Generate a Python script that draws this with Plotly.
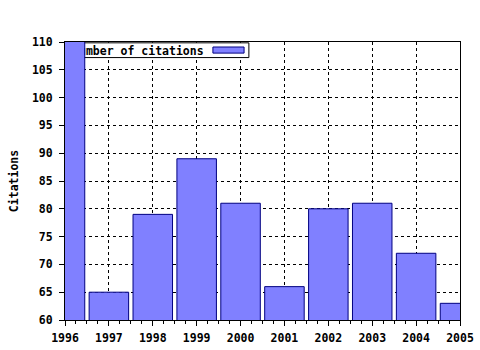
import plotly.graph_objects as go

years = [1996, 1997, 1998, 1999, 2000, 2001, 2002, 2003, 2004, 2005]
citations = [115, 65, 79, 89, 81, 66, 80, 81, 72, 63]
series_name = "Number of citations"
y_ticks = [60, 65, 70, 75, 80, 85, 90, 95, 100, 105, 110]

FONT = "DejaVu Sans Mono"
bar_fill = "#8080ff"
bar_edge = "#000080"

fig = go.Figure()
fig.add_trace(go.Bar(
    x=years, y=citations, width=0.9, name=series_name,
    marker=dict(color=bar_fill, line=dict(color=bar_edge, width=1)),
    showlegend=False,
))

# legend box drawn beneath the bars (as in the reference)
fig.add_shape(type="rect", xref="x", yref="y", layer="between",
              x0=1996.07, x1=2000.19, y0=107.2, y1=109.85,
              fillcolor="white", line=dict(color="black", width=1),
              label=dict(text=series_name, textposition="middle left", padding=1,
                         font=dict(family=FONT, size=11.5, color="black", weight="bold")))
fig.add_shape(type="rect", xref="x", yref="y", layer="between",
              x0=1999.37, x1=2000.08, y0=108.0, y1=109.1,
              fillcolor=bar_fill, line=dict(color=bar_edge, width=1))

axis_common = dict(
    showline=True, linecolor="black", linewidth=1, mirror=True,
    ticks="outside", ticklen=5, tickcolor="black",
    showgrid=True, gridcolor="black", gridwidth=1, griddash="dot",
    zeroline=False, automargin=False,
    tickfont=dict(family=FONT, size=11.5, color="black", weight="bold"),
)

fig.update_xaxes(range=[1996, 2005], tickmode="array", tickvals=years,
                 ticktext=[str(y) for y in years], ticklabelstandoff=2,
                 minor=dict(dtick=0.25, ticklen=3, tickcolor="black", ticks="outside", showgrid=False),
                 **axis_common)
fig.update_yaxes(range=[60, 110], tickmode="array", tickvals=y_ticks,
                 ticklabelstandoff=4,
                 title=dict(text="Citations", standoff=10,
                            font=dict(family=FONT, size=11.5, color="black", weight="bold")),
                 **axis_common)

fig.update_layout(
    width=480, height=350,
    margin=dict(l=65, r=20, t=42, b=30),
    paper_bgcolor="white", plot_bgcolor="white",
    bargap=0.1,
)

fig.write_html("out.html")
